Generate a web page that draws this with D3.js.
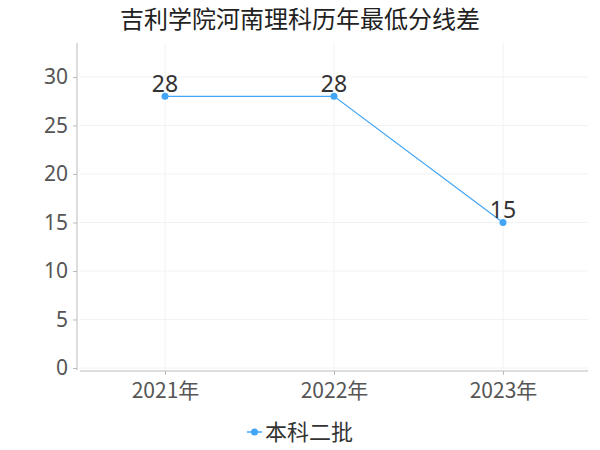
<!DOCTYPE html>
<html>
<head>
<meta charset="utf-8">
<script src="https://cdn.jsdelivr.net/npm/d3@7"></script>
<style>
  body { margin: 0; background: #fff; }
  text { font-family: "Noto Sans CJK SC", "Noto Sans", sans-serif; }
</style>
</head>
<body>
<div id="chart"></div>
<script>
const years = ["2021年", "2022年", "2023年"];
const scores = [28, 28, 15];
const yTicks = [0, 5, 10, 15, 20, 25, 30];
const seriesName = "本科二批";
const chartTitle = "吉利学院河南理科历年最低分线差";

const width = 600, height = 450;
const color = "#42a5f5";

let svg = d3.select("#chart")
    .append("svg")
    .attr("width", width)
    .attr("height", height);

let x = d3.scalePoint()
    .domain(years)
    .range([165, 503]);

let y = d3.scaleLinear()
    .domain([0, 33.5])
    .range([368, 43]);

// gridlines
svg.append("g")
    .selectAll("line.h")
    .data(yTicks)
    .enter().append("line")
    .attr("x1", 80).attr("x2", 588)
    .attr("y1", d => y(d)).attr("y2", d => y(d))
    .style("stroke", "#f2f2f2");

svg.append("g")
    .selectAll("line.v")
    .data(years)
    .enter().append("line")
    .attr("x1", d => x(d)).attr("x2", d => x(d))
    .attr("y1", 43).attr("y2", 369)
    .style("stroke", "#f2f2f2");

// y axis
let yAxis = svg.append("g")
    .attr("transform", "translate(77,0)")
    .call(d3.axisLeft(y).tickValues(yTicks).tickSize(4).tickPadding(5));
yAxis.select(".domain").attr("d", `M0,${43}V${370}`).style("stroke", "#bbb");
yAxis.selectAll(".tick line").style("stroke", "#bbb");
yAxis.selectAll("text")
    .style("font-size", "21px")
    .style("fill", "#555")
    .style("font-family", "'Noto Sans', sans-serif");

// x axis
let xAxis = svg.append("g")
    .attr("transform", "translate(0,371)")
    .call(d3.axisBottom(x).tickSize(4).tickPadding(8));
xAxis.select(".domain").attr("d", "M80,0H588").style("stroke", "#bbb");
xAxis.selectAll(".tick line").style("stroke", "#bbb");
xAxis.selectAll("text")
    .style("font-size", "21px")
    .style("fill", "#555");

// line
let line = d3.line()
    .x((d, i) => x(years[i]))
    .y(d => y(d));

svg.append("path")
    .datum(scores)
    .attr("d", line)
    .style("fill", "none")
    .style("stroke", color)
    .style("stroke-width", 1.2);

svg.append("g")
    .selectAll("circle")
    .data(scores)
    .enter().append("circle")
    .attr("cx", (d, i) => x(years[i]))
    .attr("cy", d => y(d))
    .attr("r", 3.5)
    .style("fill", color);

// value labels
svg.append("g")
    .selectAll("text")
    .data(scores)
    .enter().append("text")
    .attr("x", (d, i) => x(years[i]))
    .attr("y", d => y(d) - 4)
    .style("text-anchor", "middle")
    .style("font-size", "23px")
    .style("fill", "#333")
    .style("font-family", "'Noto Sans', sans-serif")
    .text(d => d);

// title
svg.append("text")
    .attr("x", 300)
    .attr("y", 28)
    .style("text-anchor", "middle")
    .style("font-size", "24px")
    .style("fill", "#222")
    .text(chartTitle);

// legend
let legend = svg.append("g").attr("transform", "translate(247,432)");
legend.append("line")
    .attr("x1", 0).attr("x2", 15)
    .style("stroke", color)
    .style("stroke-width", 1.5);
legend.append("circle")
    .attr("cx", 7.5).attr("r", 3.5)
    .style("fill", color);
legend.append("text")
    .attr("x", 18)
    .attr("dy", "0.35em")
    .style("font-size", "22px")
    .style("fill", "#333")
    .text(seriesName);
</script>
</body>
</html>
